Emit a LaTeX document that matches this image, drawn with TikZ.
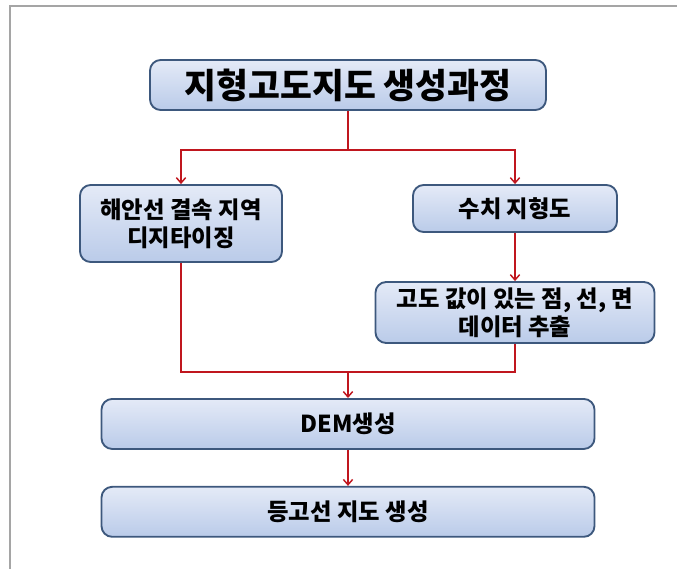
\documentclass[tikz,border=0pt]{standalone}
\usepackage{fontspec}
\setmainfont{Noto Sans CJK KR}
\usetikzlibrary{arrows.meta,positioning}
\definecolor{boxedge}{RGB}{61,88,125}
\definecolor{boxtop}{RGB}{228,234,247}
\definecolor{boxbottom}{RGB}{186,203,233}
\definecolor{flowred}{RGB}{192,22,30}
\definecolor{framegray}{RGB}{165,165,165}

\begin{document}
\begin{tikzpicture}[x=0.75pt,y=-0.75pt,node distance=27pt,>={Straight Barb[length=4pt,width=7pt]}]
  \tikzset{b/.style={rounded corners=8pt,draw=boxedge,line width=1.4pt,top color=boxtop,bottom color=boxbottom,align=center,inner sep=0pt,font=\fontsize{17.5}{21}\selectfont\bfseries}}
  \tikzset{flow/.style={draw=flowred,line width=1.1pt}}
  \useasboundingbox (0,0) rectangle (677,569);
  \draw[framegray,line width=1.5pt] (677,6) -- (10,6) -- (10,569);
  \node[b,minimum width=297pt,minimum height=37.5pt,font=\fontsize{26}{30}\selectfont\bfseries] (title) at (348,85) {지형고도지도 생성과정};
  \coordinate (split) at (348,150);
  \node[b,minimum width=151.5pt,minimum height=57.75pt] (coast) at (181,223.5) {해안선 결속 지역\\디지타이징};
  \node[b,minimum width=153pt,minimum height=35.25pt] (map) at (515,208.5) {수치 지형도};
  \node[b,minimum width=209.25pt,minimum height=45.75pt] (data) at (515,312.5) {고도 값이 있는 점, 선, 면\\데이터 추출};
  \coordinate (join) at (348,372);
  \node[b,below=19.5pt of join,minimum width=369.75pt,minimum height=37.5pt] (dem) {DEM생성};
  \node[b,below=of dem,minimum width=369.75pt,minimum height=37.5pt] (contour) {등고선 지도 생성};
  \draw[flow] (title) -- (split);
  \draw[flow,->] (split) -| (coast);
  \draw[flow,->] (split) -| (map);
  \draw[flow,->] (map) -- (data);
  \draw[flow] (coast) |- (join);
  \draw[flow] (data) |- (join);
  \draw[flow,->] (join) -- (dem);
  \draw[flow,->] (dem) -- (contour);
\end{tikzpicture}
\end{document}
